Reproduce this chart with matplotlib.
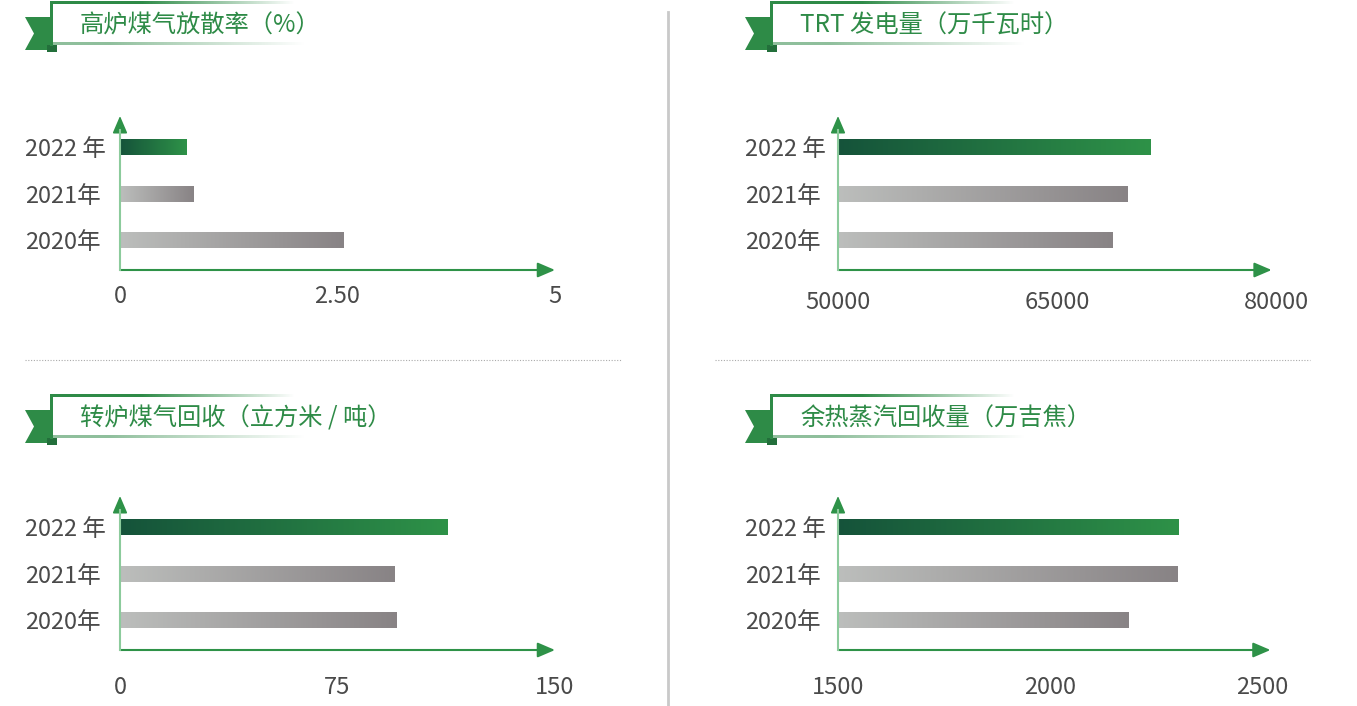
import numpy as np
import matplotlib.pyplot as plt
from matplotlib.colors import LinearSegmentedColormap, to_rgb
from matplotlib.patches import Polygon

plt.rcParams['font.family'] = ['Noto Sans CJK SC', 'DejaVu Sans']

# data
years = ['2020年', '2021年', '2022 年']
titles = ['高炉煤气放散率（%）', 'TRT 发电量（万千瓦时）',
          '转炉煤气回收（立方米 / 吨）', '余热蒸汽回收量（万吉焦）']
blast_gas = [2.57, 0.84, 0.77]
trt_power = [68800, 69850, 71400]
bof_gas = [95.3, 94.6, 113]
steam = [2186, 2300, 2303]
xlims = [(0, 5), (50000, 80000), (0, 150), (1500, 2500)]
xticks = [[0, 2.5, 5], [50000, 65000, 80000], [0, 75, 150], [1500, 2000, 2500]]
xticklabels = [['0', '2.50', '5'], ['50000', '65000', '80000'],
               ['0', '75', '150'], ['1500', '2000', '2500']]
series = [blast_gas, trt_power, bof_gas, steam]

W, H = 1357, 706
GREEN = '#2E8B47'
fig = plt.figure(figsize=(W / 100, H / 100), dpi=100)

bg = fig.add_axes([0, 0, 1, 1])
bg.set_xlim(0, W)
bg.set_ylim(H, 0)
bg.axis('off')

green_cm = LinearSegmentedColormap.from_list('g', ['#15533A', '#2E9248'])
gray_cm = LinearSegmentedColormap.from_list('k', ['#BCBEBC', '#888385'])
grad = np.linspace(0, 1, 256).reshape(1, -1)


def fade_line(x0, x1, y0, y1, color, strength=1.6):
    t = np.linspace(0, 1, 256)
    rgba = np.zeros((1, 256, 4))
    rgba[..., :3] = to_rgb(color)
    rgba[0, :, 3] = np.clip(strength * (1 - t), 0, 1)
    bg.imshow(rgba, extent=(x0, x1, y1, y0), aspect='auto',
              interpolation='bilinear', zorder=3)


def banner(ox, oy, text):
    # ribbon tail
    bg.add_patch(Polygon([(ox, oy + 15), (ox + 28, oy + 15), (ox + 28, oy + 48),
                          (ox, oy + 48), (ox + 9, oy + 31.5)], closed=True,
                         color=GREEN, lw=0, zorder=1))
    bg.add_patch(Polygon([(ox + 22, oy + 43), (ox + 32, oy + 43), (ox + 32, oy + 50),
                          (ox + 22, oy + 50)], closed=True, color='#236F3B', lw=0, zorder=1))
    fx = ox + 25
    bg.add_patch(Polygon([(fx, oy), (fx + 260, oy), (fx + 260, oy + 43), (fx, oy + 43)],
                         closed=True, color='white', lw=0, zorder=2))
    fade_line(fx, fx + 245, oy, oy + 2.5, GREEN)
    fade_line(fx, fx + 255, oy + 41, oy + 43.5, '#8FBF9C', 1.3)
    bg.add_patch(Polygon([(fx, oy), (fx + 3, oy), (fx + 3, oy + 44), (fx, oy + 44)],
                         closed=True, color=GREEN, lw=0, zorder=4))
    bg.text(ox + 55, oy + 24, text, color=GREEN, fontsize=17.5, va='center',
            ha='left', zorder=5)


# panels: (axis x start px, axis x end px, x-axis y px, label left px, banner origin)
panels = [(120, 555, 270, 25, (25, 2)), (838, 1276, 270, 745, (745, 2)),
          (120, 555, 650, 25, (25, 395)), (838, 1262, 650, 745, (745, 395))]
label_pads = [11, 15, 19, 19]
arrow_ext = [1.0, 0.99, 1.0, 1.02]

YLO, YHI = -0.645, 2.667
px_per_unit = 46.5
ax_h = (YHI - YLO) * px_per_unit

for i, (x0, x1, ya, lx, (bx, by)) in enumerate(panels):
    banner(bx, by, titles[i])
    ax = fig.add_axes([x0 / W, (H - ya) / H, (x1 - x0) / W, ax_h / H])
    ax.patch.set_alpha(0)
    lo, hi = xlims[i]
    vals = np.array(series[i], dtype=float)
    bars = ax.barh(range(3), vals - lo, left=lo, height=0.344, color='none')
    for j, b in enumerate(bars):
        cm = green_cm if j == 2 else gray_cm
        ax.imshow(grad, extent=(b.get_x(), b.get_x() + b.get_width(),
                                b.get_y(), b.get_y() + b.get_height()),
                  cmap=cm, aspect='auto', interpolation='bilinear')
    ax.set_xlim(lo, hi)
    ax.set_ylim(YLO, YHI)
    for s in ax.spines.values():
        s.set_visible(False)
    ax.set_xticks(xticks[i])
    ax.set_xticklabels(xticklabels[i])
    ax.set_yticks(range(3))
    ax.set_yticklabels(years)
    ax.tick_params(length=0, labelsize=17, labelcolor='#4A4A4A')
    ax.tick_params(axis='x', pad=label_pads[i])
    ax.tick_params(axis='y', pad=(x0 - lx) * 0.72)
    for lab in ax.get_yticklabels():
        lab.set_ha('left')
    ax.annotate('', xy=(arrow_ext[i], 0), xytext=(0, 0), xycoords='axes fraction',
                arrowprops=dict(arrowstyle='-|>,head_length=0.7,head_width=0.3',
                                color='#2E9248', lw=1.5, mutation_scale=15,
                                shrinkA=0, shrinkB=0))
    ax.annotate('', xy=(0, 1), xytext=(0, 0), xycoords='axes fraction',
                arrowprops=dict(arrowstyle='-|>,head_length=0.7,head_width=0.3',
                                color='#2E9248', lw=1.2, mutation_scale=15,
                                shrinkA=0, shrinkB=0))
    ax.plot([lo, lo], [YLO, YHI - 0.3], color='#8CCB9C', lw=1.5, zorder=3, clip_on=False)

# dividers
bg.plot([668, 668], [12, H], color='#C9C9C9', lw=2)
bg.plot([25, 622], [360, 360], color='#AAAAAA', lw=0.8, ls=(0, (1, 1.5)))
bg.plot([715, 1310], [360, 360], color='#AAAAAA', lw=0.8, ls=(0, (1, 1.5)))
bg.set_xlim(0, W)
bg.set_ylim(H, 0)

fig.savefig('out.png', dpi=100)
